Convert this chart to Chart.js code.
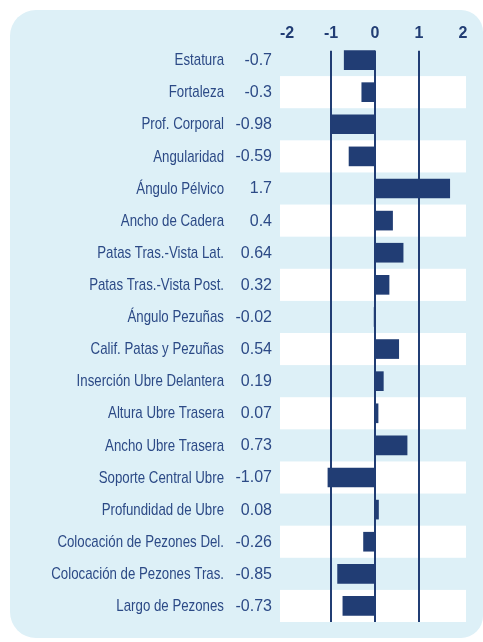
<!DOCTYPE html>
<html>
<head>
<meta charset="utf-8">
<script src="https://cdn.jsdelivr.net/npm/chart.js@4/dist/chart.umd.min.js"></script>
<style>
  html, body { margin: 0; padding: 0; background: #fff; }
  #wrap { position: relative; width: 483px; height: 642px; }
  #card { position: absolute; left: 10px; top: 10px; width: 473px; height: 628px; background: #ddf0f7; border-radius: 26px 22px 22px 26px; }
  #chart { position: absolute; left: 0; top: 0; }
</style>
</head>
<body>
<div id="wrap">
  <div id="card"></div>
  <canvas id="chart" width="483" height="642"></canvas>
</div>
<script>
// --- Data ---
const traits = [
  'Estatura', 'Fortaleza', 'Prof. Corporal', 'Angularidad', 'Ángulo Pélvico',
  'Ancho de Cadera', 'Patas Tras.-Vista Lat.', 'Patas Tras.-Vista Post.', 'Ángulo Pezuñas',
  'Calif. Patas y Pezuñas', 'Inserción Ubre Delantera', 'Altura Ubre Trasera',
  'Ancho Ubre Trasera', 'Soporte Central Ubre', 'Profundidad de Ubre',
  'Colocación de Pezones Del.', 'Colocación de Pezones Tras.', 'Largo de Pezones'
]
const values = [-0.7, -0.3, -0.98, -0.59, 1.7, 0.4, 0.64, 0.32, -0.02, 0.54, 0.19, 0.07, 0.73, -1.07, 0.08, -0.26, -0.85, -0.73]
const xTicks = [-2, -1, 0, 1, 2]
const refLines = [-1, 0, 1]

// --- Colors / fonts ---
const NAVY = '#213d74'
const TEXT = '#2c4a86'
const FONT = '"Liberation Sans", Arial, sans-serif'

// white bands on every other row + reference lines + row labels
const bandsPlugin = {
  id: 'bands',
  beforeDraw(chart) {
    const { ctx, chartArea, scales } = chart
    const y = scales.y
    const step = y.getPixelForValue(1) - y.getPixelForValue(0)
    ctx.save()
    ctx.fillStyle = '#ffffff'
    traits.forEach((t, i) => {
      if (i % 2 === 1) {
        const cy = y.getPixelForValue(i)
        ctx.fillRect(chartArea.left, cy - step / 2, chartArea.right - chartArea.left, step)
      }
    })
    ctx.restore()
  },
  beforeDatasetsDraw(chart) {
    const { ctx, chartArea, scales } = chart
    const x = scales.x
    const y = scales.y
    const step = y.getPixelForValue(1) - y.getPixelForValue(0)
    ctx.save()
    ctx.strokeStyle = NAVY
    ctx.lineWidth = 2
    refLines.forEach(v => {
      const px = Math.round(x.getPixelForValue(v))
      ctx.beginPath()
      ctx.moveTo(px, chartArea.top + step * 0.21)
      ctx.lineTo(px, chartArea.bottom)
      ctx.stroke()
    })
    ctx.restore()
  },
  // names drawn condensed (no narrow font installed), values next to them
  afterDraw(chart) {
    const { ctx, scales } = chart
    const y = scales.y
    const y2 = scales.y2
    ctx.save()
    ctx.fillStyle = TEXT
    ctx.textAlign = 'right'
    ctx.textBaseline = 'middle'
    traits.forEach((t, i) => {
      const py = y.getPixelForValue(i) + 0.5
      ctx.save()
      ctx.font = '17px ' + FONT
      ctx.translate(y.right - 6, py)
      ctx.scale(0.78, 1)
      ctx.fillText(t, 0, 0)
      ctx.restore()
      ctx.font = '16px ' + FONT
      ctx.fillText(String(values[i]), y2.right - 8, py)
    })
    ctx.restore()
  }
}

const ctx = document.getElementById('chart').getContext('2d')
new Chart(ctx, {
  type: 'bar',
  data: {
    labels: traits,
    datasets: [{
      data: values,
      backgroundColor: NAVY,
      borderWidth: 0,
      barThickness: 19
    }]
  },
  options: {
    indexAxis: 'y',
    responsive: false,
    animation: false,
    layout: { padding: { top: 0, right: 17, bottom: 20, left: 0 } },
    plugins: {
      legend: { display: false },
      tooltip: { enabled: false }
    },
    scales: {
      x: {
        position: 'top',
        min: -2.16,
        max: 2.07,
        afterBuildTicks: s => { s.ticks = xTicks.map(v => ({ value: v })) },
        afterFit: s => { s.height = 44 },
        grid: { display: false, drawTicks: false },
        border: { display: false },
        ticks: {
          padding: 1,
          color: NAVY,
          font: { family: FONT, size: 16, weight: 'bold' },
          callback: v => String(v)
        }
      },
      y: {
        position: 'left',
        weight: 1,
        afterFit: s => { s.width = 230 },
        grid: { display: false, drawTicks: false },
        border: { display: false },
        ticks: { display: false }
      },
      y2: {
        type: 'category',
        position: 'left',
        weight: 0,
        offset: true,
        labels: values.map(v => String(v)),
        afterFit: s => { s.width = 50 },
        grid: { display: false, drawTicks: false },
        border: { display: false },
        ticks: { display: false }
      }
    }
  },
  plugins: [bandsPlugin]
})
</script>
</body>
</html>
